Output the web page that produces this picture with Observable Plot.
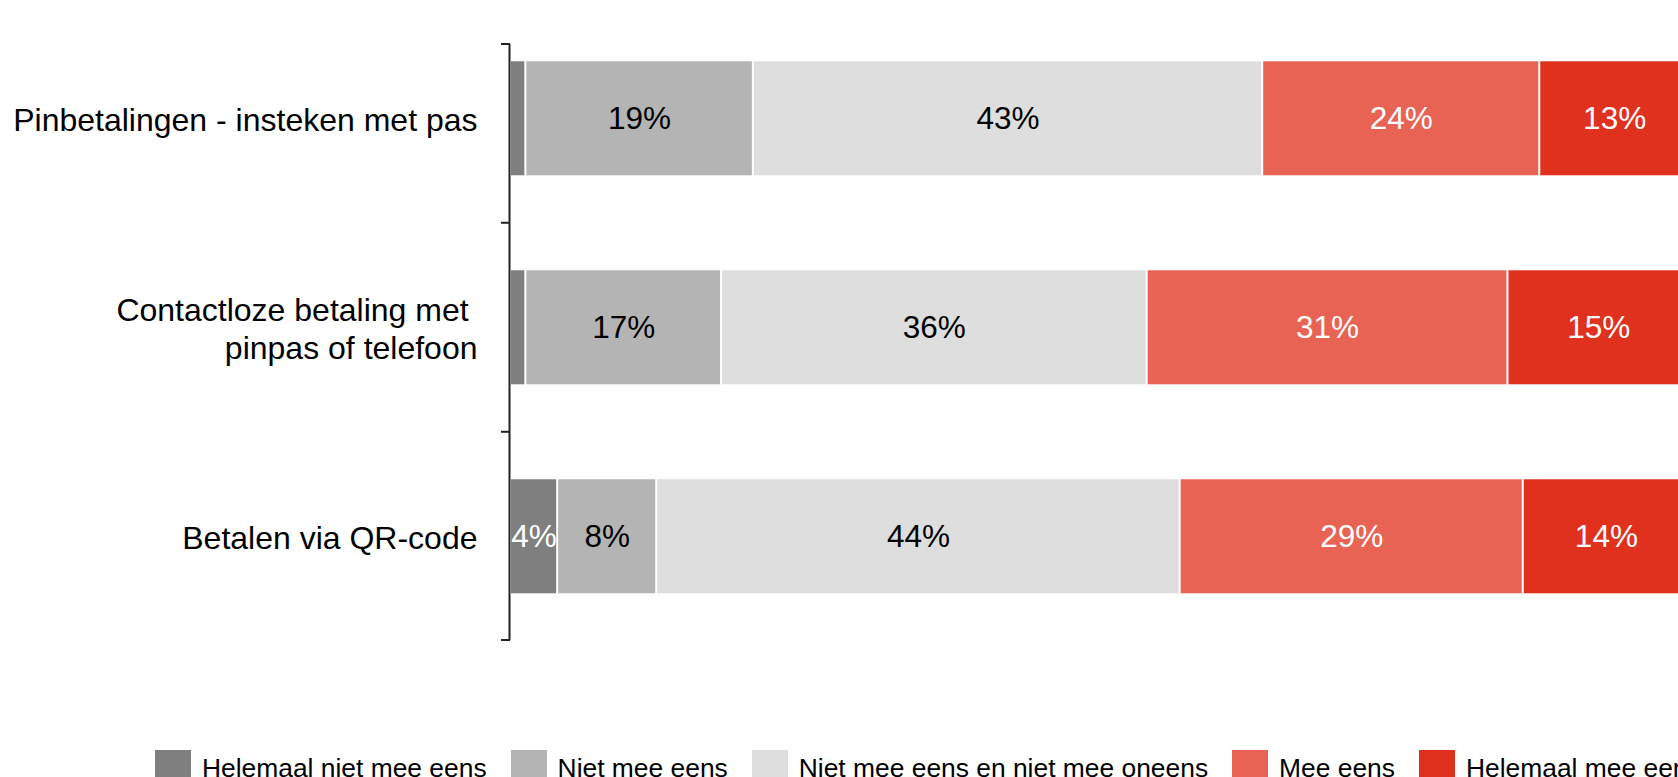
<!DOCTYPE html>
<html>
<head>
<meta charset="utf-8">
<script src="https://cdn.jsdelivr.net/npm/d3@7"></script>
<script src="https://cdn.jsdelivr.net/npm/@observablehq/plot@0.6"></script>
<style>
  html, body { margin: 0; padding: 0; background: #fff; overflow: hidden; }
  #chart svg { display: block; }
  #legend { display: flex; align-items: flex-start; padding-left: 155px; white-space: nowrap;
            font-family: "Liberation Sans", Arial, sans-serif; font-size: 26.4px; color: #000; }
  .item { display: flex; align-items: center; margin-right: 24px; height: 36px; line-height: 36px; }
  .sw { width: 36px; height: 36px; margin-right: 11px; flex: none; }
</style>
</head>
<body>
<div id="chart"></div>
<div id="legend"></div>
<script>
// Categories (keys) and their displayed labels
const categories = ["Pinbetalingen", "Contactloos", "QR-code"];
const categoryLabels = ["Pinbetalingen - insteken met pas", "Contactloze betaling met\u00a0\npinpas of telefoon", "Betalen via QR-code"];

// Response options (legend order)
const responses = ["Helemaal niet mee eens", "Niet mee eens", "Niet mee eens en niet mee oneens", "Mee eens", "Helemaal mee eens"];
const responseColors = ["#7f7f7f", "#b4b4b4", "#dedede", "#e96355", "#e0311f"];
const labelColors = ["white", "black", "black", "white", "white"];

// Series values (percent), one value per category
const helemaalNietMeeEens = [1.3, 1.3, 4.0];
const nietMeeEens = [19.3, 16.6, 8.4];
const neutraal = [43.2, 36.1, 44.4];
const meeEens = [23.5, 30.6, 29.1];
const helemaalMeeEens = [12.7, 15.4, 14.1];

const series = [helemaalNietMeeEens, nietMeeEens, neutraal, meeEens, helemaalMeeEens];
const rows = [];
categories.forEach((c, i) => {
  responses.forEach((r, j) => {
    rows.push({category: c, response: r, value: series[j][i], labelColor: labelColors[j]});
  });
});
const labelText = d => d.value >= 2 ? Math.round(d.value) + "%" : "";

const plot = Plot.plot({
  width: 1678,
  height: 750,
  marginLeft: 510,
  marginRight: -11,
  marginTop: 44,
  marginBottom: 110,
  style: {fontFamily: "'Liberation Sans', Arial, sans-serif", background: "white"},
  x: {domain: [0, 100], axis: null},
  y: {domain: categories, axis: null, paddingInner: 0.4545, paddingOuter: 0.1531, align: 0.27, round: false},
  color: {domain: responses, range: responseColors},
  marks: [
    Plot.barX(rows, Plot.stackX({x: "value", y: "category", fill: "response", order: responses, insetLeft: 1, insetRight: 1})),
    Plot.text(rows, Plot.stackX({x: "value", y: "category", z: "response", order: responses,
      text: d => d.labelColor === "black" ? labelText(d) : "", fill: "black", fontSize: 31.5})),
    Plot.text(rows, Plot.stackX({x: "value", y: "category", z: "response", order: responses,
      text: d => d.labelColor === "white" ? labelText(d) : "", fill: "white", fontSize: 31.5})),
    Plot.ruleX([0], {stroke: "#222", strokeWidth: 2, dx: -1}),
    Plot.text(categories, {x: 0, y: d => d, text: (d, i) => categoryLabels[i], textAnchor: "end",
      dx: -33, fontSize: 32, lineHeight: 1.2, fill: "black"})
  ]
});
document.getElementById("chart").appendChild(plot);

// Category-boundary tick marks on the y axis, from the plot's own scales
const ys = plot.scale("y");
const xs = plot.scale("x");
const x0 = xs.apply(0) - 1;
const bounds = [ys.range[0]];
categories.slice(0, -1).forEach(c => bounds.push(ys.apply(c) + ys.bandwidth + (ys.step - ys.bandwidth) / 2));
bounds.push(ys.range[1]);
d3.select(plot).append("g")
  .selectAll("line").data(bounds).join("line")
  .attr("x1", x0 - 8).attr("x2", x0 + 1)
  .attr("y1", d => d).attr("y2", d => d)
  .attr("stroke", "#222").attr("stroke-width", 2);

// Legend
const legend = d3.select("#legend");
responses.forEach((r, j) => {
  const it = legend.append("div").attr("class", "item");
  it.append("div").attr("class", "sw").style("background", responseColors[j]);
  it.append("span").text(r);
});
</script>
</body>
</html>
